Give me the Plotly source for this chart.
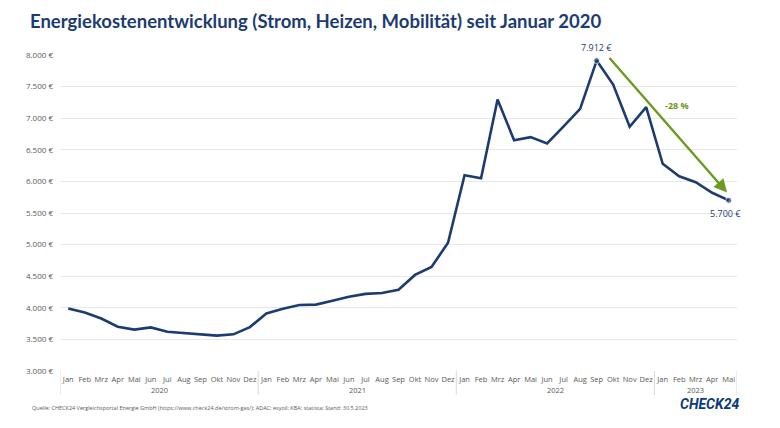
import plotly.graph_objects as go

months = ["Jan", "Feb", "Mrz", "Apr", "Mai", "Jun", "Jul", "Aug", "Sep", "Okt", "Nov", "Dez"]
years = ["2020", "2021", "2022", "2023"]
month_labels = months * 3 + months[:5]

costs = [
    3990, 3925, 3830, 3700, 3655, 3690, 3620, 3600, 3585, 3560, 3580, 3695,   # 2020
    3910, 3985, 4045, 4050, 4110, 4175, 4220, 4235, 4285, 4520, 4645, 5030,   # 2021
    6098, 6050, 7296, 6652, 6700, 6600, 6870, 7148, 7912, 7533, 6864, 7175,   # 2022
    6278, 6082, 5987, 5820, 5700,                                              # 2023
]
y_ticks = [3000, 3500, 4000, 4500, 5000, 5500, 6000, 6500, 7000, 7500, 8000]
y_tick_labels = ["3.000 €", "3.500 €", "4.000 €", "4.500 €", "5.000 €", "5.500 €",
                 "6.000 €", "6.500 €", "7.000 €", "7.500 €", "8.000 €"]
peak_label = "7.912 €"
end_label = "5.700 €"
change_label = "-28 %"

NAVY = "#1c3c70"
GREEN = "#6b9a20"
GREY = "#595959"

x = list(range(len(costs)))
peak_i = costs.index(max(costs))
end_i = len(costs) - 1
marker_sizes = [6 if i in (peak_i, end_i) else 0 for i in x]

fig = go.Figure()
fig.add_trace(go.Scatter(
    x=x, y=costs, mode="lines+markers",
    line=dict(color=NAVY, width=2.6),
    marker=dict(size=marker_sizes, color=NAVY),
    hoverinfo="skip", showlegend=False,
))

# Year dividers and labels
year_starts = [0, 12, 24, 36, len(costs)]
shapes = []
for b in year_starts:
    shapes.append(dict(type="line", xref="x", yref="paper",
                       x0=b - 0.5, x1=b - 0.5, y0=0, y1=-0.076,
                       line=dict(color="#d9d9d9", width=1)))
annotations = []
for k, yr in enumerate(years):
    center = (year_starts[k] + year_starts[k + 1] - 1) / 2
    annotations.append(dict(x=center, y=-0.06, xref="x", yref="paper",
                            yanchor="middle", text=yr, showarrow=False,
                            font=dict(size=7.5, color=GREY, family="Open Sans")))

# Frame line at right image border
shapes.append(dict(type="line", xref="paper", yref="paper",
                   x0=1.056, x1=1.056, y0=-0.25, y1=1.2,
                   line=dict(color="#d0d0d0", width=1)))

# Value labels
annotations.append(dict(x=peak_i, y=costs[peak_i], xref="x", yref="y",
                        text=peak_label, showarrow=False, yshift=13,
                        font=dict(size=9, color=NAVY, family="Open Sans")))
annotations.append(dict(x=end_i - 0.2, y=costs[end_i], xref="x", yref="y",
                        text=end_label, showarrow=False, yshift=-13,
                        font=dict(size=9, color=NAVY, family="Open Sans")))
# Trend arrow
annotations.append(dict(x=39.9, y=5824, ax=32.7, ay=7976,
                        xref="x", yref="y", axref="x", ayref="y",
                        text="", showarrow=True, arrowhead=2, arrowsize=1.1,
                        arrowwidth=2.4, arrowcolor=GREEN))
annotations.append(dict(x=36.85, y=7200, xref="x", yref="y",
                        text="<b>" + change_label + "</b>", showarrow=False,
                        font=dict(size=9, color=GREEN, family="Open Sans")))
# Source
annotations.append(dict(x=-0.0443, y=-0.117, xref="paper", yref="paper",
                        xanchor="left", yanchor="middle", showarrow=False,
                        text="Quelle: CHECK24 Vergleichsportal Energie GmbH (https://www.check24.de/strom-gas/); ADAC; esyoil; KBA; statista; Stand: 30.5.2023",
                        font=dict(size=5.5, color=GREY, family="Open Sans")))
# Logo text
annotations.append(dict(x=0.96, y=-0.104, xref="paper", yref="paper",
                        xanchor="center", yanchor="middle", showarrow=False,
                        text="<b><i>CHECK24</i></b>",
                        font=dict(size=14, color="#0a3a7a", family="Roboto")))

fig.update_layout(
    width=780, height=428,
    margin=dict(l=52, r=51, t=47, b=65),
    paper_bgcolor="white", plot_bgcolor="white",
    title=dict(text="<b>Energiekostenentwicklung (Strom, Heizen, Mobilität) seit Januar 2020</b>",
               x=22 / 780, xanchor="left", xref="container",
               y=1 - 14 / 428, yanchor="middle", yref="container",
               font=dict(size=18.5, color=NAVY, family="Lato")),
    xaxis=dict(range=[-0.5, len(costs) - 0.5], tickvals=x, ticktext=month_labels,
               showgrid=False, zeroline=False, showline=False, ticks="",
               tickangle=0, ticklabelstandoff=2,
               tickfont=dict(size=7.5, color=GREY, family="Open Sans"),
               fixedrange=True),
    yaxis=dict(range=[3000, 8000], tickvals=y_ticks, ticktext=y_tick_labels,
               showgrid=True, gridcolor="#e8e8e8", gridwidth=1,
               zeroline=False, showline=False, ticks="",
               ticklabelstandoff=6,
               tickfont=dict(size=8, color=GREY, family="Open Sans"),
               fixedrange=True),
    shapes=shapes, annotations=annotations,
)

fig.write_html("out.html")
